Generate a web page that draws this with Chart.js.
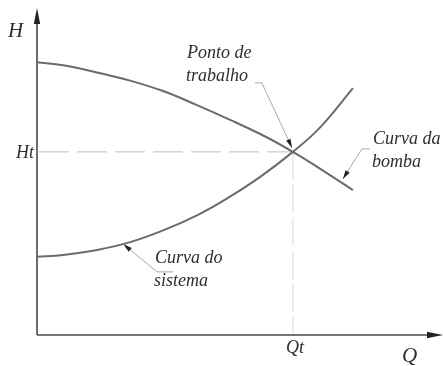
<!DOCTYPE html>
<html>
<head>
<meta charset="utf-8">
<script src="https://cdn.jsdelivr.net/npm/chart.js@4.4.0/dist/chart.umd.min.js"></script>
<style>
  html, body { margin: 0; padding: 0; background: #fff; }
  #wrap { width: 443px; height: 366px; }
  #aquece { position: absolute; left: -999px; font: italic 18px "Liberation Serif"; }
</style>
</head>
<body>
<div id="wrap"><canvas id="grafico" width="443" height="366"></canvas></div>
<span id="aquece">Curva da bomba Qt Ht</span>
<script>
"use strict";

// vazao Q e altura H (unidades arbitrarias 0..100)
let bomba_Q = [0, 6.5, 14.9, 23.1, 31.3, 39.7, 47.9, 57.1, 63.5, 70.2, 78.4];
let bomba_H = [83.4, 82.5, 80.3, 77.8, 74.6, 70.3, 65.8, 60.4, 56.0, 50.9, 44.3];

let sistema_Q = [0, 6.5, 14.9, 23.1, 31.3, 39.7, 47.1, 55.3, 63.5, 70.2, 78.4];
let sistema_H = [23.9, 24.5, 26.0, 28.4, 32.0, 36.6, 41.7, 48.3, 56.0, 63.4, 75.5];

// ponto de trabalho
let Qt = 63.5;
let Ht = 56.0;

let rotulos_eixo = ["H", "Q", "Ht", "Qt"];

function monta_pontos(qs, hs)
{
    let pontos = [];
    for (let i in qs)
    {
        pontos.push({ x: qs[i], y: hs[i] });
    }
    return pontos;
}

let fonte = 'italic 18px "Liberation Serif"';
let cor_texto = "#2e2e2e";

function seta(ctx, x0, y0, x1, y1, comp, larg)
{
    let ang = Math.atan2(y1 - y0, x1 - x0);
    ctx.beginPath();
    ctx.moveTo(x1, y1);
    ctx.lineTo(x1 - comp * Math.cos(ang) + larg * Math.sin(ang), y1 - comp * Math.sin(ang) - larg * Math.cos(ang));
    ctx.lineTo(x1 - comp * Math.cos(ang) - larg * Math.sin(ang), y1 - comp * Math.sin(ang) + larg * Math.cos(ang));
    ctx.closePath();
    ctx.fill();
}

// chamadas (texto + linha de chamada), em coordenadas de dados
let chamadas = [
    { linhas: ["Ponto de", "trabalho"], tx: 37.2, ty: 84.7, quebra: [54.1, 77.1], canto: [55.8, 77.1], ponta: [63.3, 57.2] },
    { linhas: ["Curva da", "bomba"], tx: 83.4, ty: 58.4, quebra: [82.6, 56.9], canto: [80.6, 56.9], ponta: [75.9, 47.7] },
    { linhas: ["Curva do", "sistema"], tx: 29.3, ty: 21.9, quebra: [33.8, 19.3], canto: [29.8, 19.3], ponta: [21.4, 27.8] }
];

let plugin_desenho = {
    id: "desenho",
    beforeDatasetsDraw(chart)
    {
        let ctx = chart.ctx;
        let sx = chart.scales.x;
        let sy = chart.scales.y;
        let x0 = sx.getPixelForValue(0);
        let y0 = sy.getPixelForValue(0);
        let xt = sx.getPixelForValue(Qt);
        let yt = sy.getPixelForValue(Ht);

        ctx.save();
        // linhas tracejadas ate o ponto de trabalho
        ctx.strokeStyle = "#bdbdbd";
        ctx.lineWidth = 1;
        ctx.setLineDash([30, 8]);
        ctx.beginPath();
        ctx.moveTo(x0 + 2, yt);
        ctx.lineTo(xt, yt);
        ctx.stroke();
        ctx.strokeStyle = "#d9d9d9";
        ctx.setLineDash([28, 5]);
        ctx.beginPath();
        ctx.moveTo(xt, yt);
        ctx.lineTo(xt, y0);
        ctx.stroke();
        ctx.setLineDash([]);

        // eixos com setas
        ctx.strokeStyle = "#4a4a4a";
        ctx.fillStyle = "#222";
        ctx.lineWidth = 1.6;
        ctx.beginPath();
        ctx.moveTo(x0, y0);
        ctx.lineTo(x0, chart.chartArea.top + 10);
        ctx.moveTo(x0, y0);
        ctx.lineTo(chart.chartArea.right - 8, y0);
        ctx.stroke();
        seta(ctx, x0, y0, x0, chart.chartArea.top, 16, 3.2);
        seta(ctx, x0, y0, chart.chartArea.right + 3, y0, 16, 3.2);
        ctx.restore();
    },
    afterDatasetsDraw(chart)
    {
        let ctx = chart.ctx;
        let sx = chart.scales.x;
        let sy = chart.scales.y;
        let x0 = sx.getPixelForValue(0);
        let y0 = sy.getPixelForValue(0);

        ctx.save();
        ctx.fillStyle = cor_texto;
        ctx.textBaseline = "alphabetic";

        // rotulos dos eixos
        ctx.font = 'italic 21px "Liberation Serif"';
        ctx.fillText(rotulos_eixo[0], x0 - 29, chart.chartArea.top + 29);
        ctx.fillText(rotulos_eixo[1], chart.chartArea.right - 38, y0 + 27);
        ctx.font = fonte;
        ctx.textAlign = "right";
        ctx.fillText(rotulos_eixo[2], x0 - 3, sy.getPixelForValue(Ht) + 6);
        ctx.textAlign = "center";
        ctx.fillText(rotulos_eixo[3], sx.getPixelForValue(Qt) + 2, y0 + 18);
        ctx.textAlign = "left";

        for (let c of chamadas)
        {
            let px = sx.getPixelForValue(c.tx);
            let py = sy.getPixelForValue(c.ty);
            ctx.fillText(c.linhas[0], px, py);
            ctx.fillText(c.linhas[1], px - 1, py + 23);

            let qx = sx.getPixelForValue(c.quebra[0]);
            let qy = sy.getPixelForValue(c.quebra[1]);
            let kx = sx.getPixelForValue(c.canto[0]);
            let ky = sy.getPixelForValue(c.canto[1]);
            let ax = sx.getPixelForValue(c.ponta[0]);
            let ay = sy.getPixelForValue(c.ponta[1]);
            ctx.strokeStyle = "#a8a8a8";
            ctx.lineWidth = 1;
            ctx.beginPath();
            ctx.moveTo(qx, qy);
            ctx.lineTo(kx, ky);
            ctx.lineTo(ax, ay);
            ctx.stroke();
            ctx.fillStyle = "#222";
            seta(ctx, kx, ky, ax, ay, 9, 2.4);
            ctx.fillStyle = cor_texto;
        }
        ctx.restore();
    }
};

function desenha()
{
    let GraficoCanvas = document.getElementById("grafico").getContext("2d");
    let Grafico = new Chart(GraficoCanvas, {
        type: "scatter",
        data: {
            datasets: [
                {
                    label: "Curva da bomba",
                    data: monta_pontos(bomba_Q, bomba_H),
                    showLine: true,
                    borderColor: "#6b6b6b",
                    borderWidth: 2,
                    pointRadius: 0,
                    tension: 0.4,
                    fill: false
                },
                {
                    label: "Curva do sistema",
                    data: monta_pontos(sistema_Q, sistema_H),
                    showLine: true,
                    borderColor: "#6b6b6b",
                    borderWidth: 2,
                    pointRadius: 0,
                    tension: 0.4,
                    fill: false
                }
            ]
        },
        options: {
            responsive: false,
            animation: false,
            layout: { padding: { left: 37, right: 3, top: 8, bottom: 31 } },
            scales: {
                x: { type: "linear", min: 0, max: 100, display: false },
                y: { type: "linear", min: 0, max: 100, display: false }
            },
            plugins: {
                legend: { display: false },
                tooltip: { enabled: false }
            }
        },
        plugins: [plugin_desenho]
    });
}

document.fonts.load(fonte).then(desenha, desenha);
</script>
</body>
</html>
